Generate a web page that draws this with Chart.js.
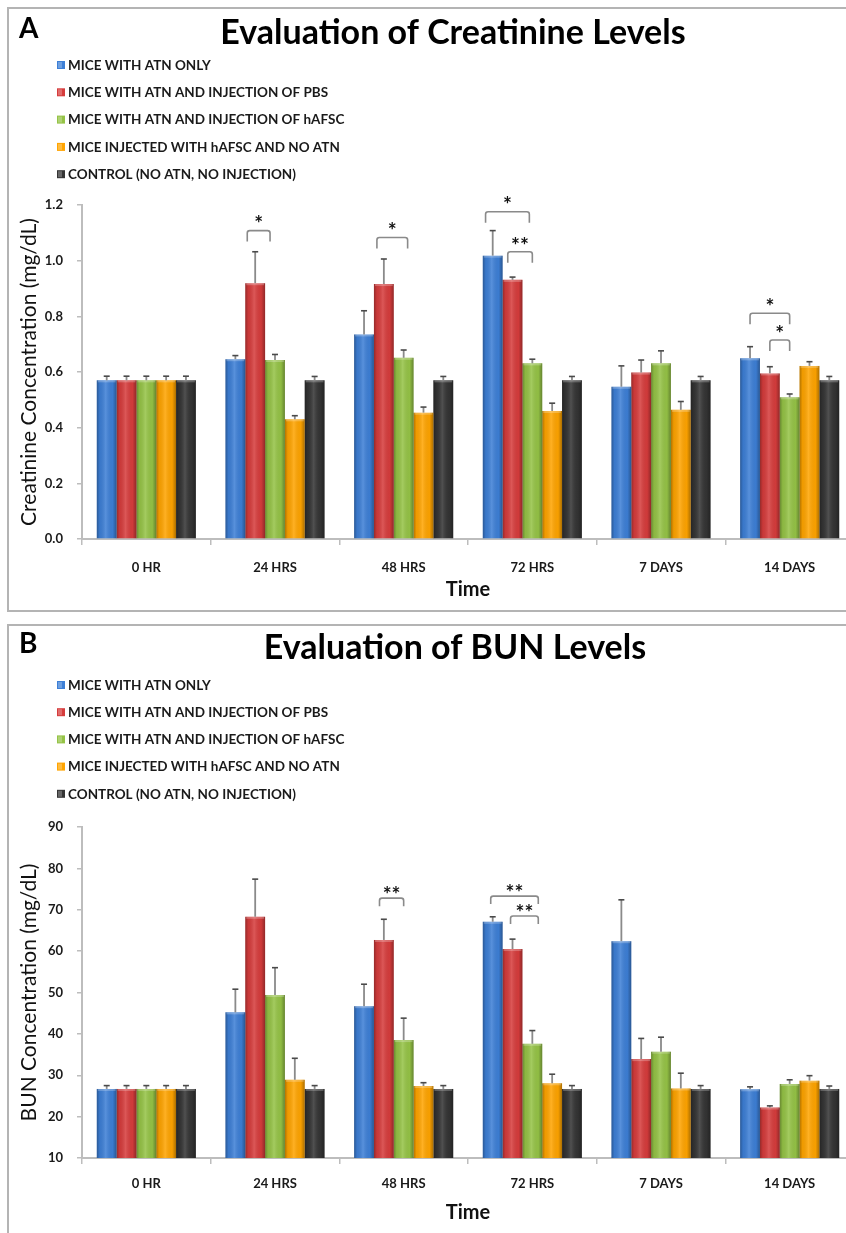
<!DOCTYPE html>
<html><head><meta charset="utf-8">
<script src="https://cdn.jsdelivr.net/npm/chart.js@4.4.1/dist/chart.umd.min.js"></script>
<style>
html,body{margin:0;padding:0;background:#fff;overflow:hidden;width:846px;height:1233px;}
.panel{position:absolute;left:7px;border:2px solid #b4b4b4;border-right:none;box-sizing:border-box;}
#pa{top:7px;width:900px;height:605px;}
#pb{top:624px;width:900px;height:640px;border-bottom:none;}
canvas{position:absolute;left:0;}
</style></head>
<body>
<div class="panel" id="pa"></div>
<div class="panel" id="pb"></div>
<canvas id="ca" width="860" height="616" style="top:0"></canvas>
<canvas id="cb" width="860" height="617" style="top:616px"></canvas>
<script>
const categories = ['0 HR','24 HRS','48 HRS','72 HRS','7 DAYS','14 DAYS'];
const seriesNames = ['MICE WITH ATN ONLY','MICE WITH ATN AND INJECTION OF PBS','MICE WITH ATN AND INJECTION OF hAFSC','MICE INJECTED WITH hAFSC AND NO ATN','CONTROL (NO ATN, NO INJECTION)'];
const seriesColors = ['#3d7fd6','#d63c3c','#95c346','#ffa400','#343434'];

// Panel A: creatinine (mg/dL)
const creatAtn   = [0.57, 0.646, 0.735, 1.018, 0.547, 0.649];
const creatPbs   = [0.57, 0.919, 0.916, 0.931, 0.598, 0.595];
const creatHafsc = [0.57, 0.643, 0.651, 0.631, 0.631, 0.509];
const creatNoAtn = [0.57, 0.430, 0.454, 0.460, 0.464, 0.622];
const creatCtrl  = [0.57, 0.57, 0.57, 0.57, 0.57, 0.57];
const creatAtnErr   = [0.015, 0.013, 0.085, 0.09, 0.075, 0.042];
const creatPbsErr   = [0.015, 0.113, 0.09, 0.01, 0.045, 0.024];
const creatHafscErr = [0.015, 0.02, 0.028, 0.015, 0.045, 0.012];
const creatNoAtnErr = [0.015, 0.013, 0.02, 0.028, 0.03, 0.015];
const creatCtrlErr  = [0.015, 0.014, 0.014, 0.014, 0.014, 0.014];
const creatBrackets = [
  {cat:1, from:0.6,  to:1.75, level:1.108, label:'*'},
  {cat:2, from:0.65, to:2.2,  level:1.083, label:'*'},
  {cat:3, from:-0.36,to:1.85, level:1.176, label:'*'},
  {cat:3, from:0.76, to:2.0,  level:1.032, label:'**'},
  {cat:5, from:0,    to:2,    level:0.811, label:'*'},
  {cat:5, from:1,    to:2,    level:0.715, label:'*'}
];

// Panel B: BUN (mg/dL)
const bunAtn   = [26.7, 45.2, 46.7, 67.1, 62.4, 26.6];
const bunPbs   = [26.7, 68.3, 62.7, 60.5, 33.9, 22.2];
const bunHafsc = [26.7, 49.4, 38.5, 37.6, 35.7, 27.9];
const bunNoAtn = [26.7, 28.9, 27.4, 28.05, 26.8, 28.7];
const bunCtrl  = [26.7, 26.7, 26.7, 26.7, 26.7, 26.7];
const bunAtnErr   = [0.8, 5.6, 5.3, 1.2, 10, 0.6];
const bunPbsErr   = [0.8, 9.1, 5.0, 2.4, 5.0, 0.4];
const bunHafscErr = [0.8, 6.6, 5.3, 3.2, 3.5, 1.0];
const bunNoAtnErr = [0.8, 5.2, 0.8, 2.2, 3.7, 1.2];
const bunCtrlErr  = [0.8, 0.8, 0.8, 0.8, 0.8, 0.7];
const bunBrackets = [
  {cat:2, from:0.78, to:2.0, level:72.8, label:'**'},
  {cat:3, from:-0.1, to:2.3, level:73.3, label:'**'},
  {cat:3, from:0.9,  to:2.3, level:68.5, label:'**'}
];

const decor = {
  id: 'decor',
  afterDatasetsDraw(chart, args, o) {
    const ctx = chart.ctx, ys = chart.scales.y, ca = chart.chartArea;
    ctx.save();
    ctx.beginPath(); ctx.rect(ca.left, 0, ca.right - ca.left, ca.bottom); ctx.clip();
    chart.data.datasets.forEach((ds, i) => {
      chart.getDatasetMeta(i).data.forEach(bar => {
        const p = bar.getProps(['x','y','base','width'], true);
        const l = p.x - p.width/2, h = p.base - p.y;
        const g = ctx.createLinearGradient(l, 0, l + p.width, 0);
        g.addColorStop(0, 'rgba(0,0,0,0.30)');
        g.addColorStop(0.15, 'rgba(0,0,0,0.06)');
        g.addColorStop(0.45, 'rgba(255,255,255,0.14)');
        g.addColorStop(0.8, 'rgba(0,0,0,0.03)');
        g.addColorStop(1, 'rgba(0,0,0,0.32)');
        ctx.fillStyle = g;
        ctx.fillRect(l, p.y, p.width, h);
        ctx.fillStyle = 'rgba(255,255,255,0.25)';
        ctx.fillRect(l + 1, p.y, p.width - 2, 2);
      });
    });
    chart.data.datasets.forEach((ds, i) => {
      const e = o.errors[i];
      chart.getDatasetMeta(i).data.forEach((bar, j) => {
        const p = bar.getProps(['x','y'], true);
        const ye = ys.getPixelForValue(ds.data[j] + e[j]);
        ctx.strokeStyle = '#8a8a8a'; ctx.lineWidth = 1.8;
        ctx.beginPath(); ctx.moveTo(p.x, p.y); ctx.lineTo(p.x, ye); ctx.stroke();
        ctx.strokeStyle = '#4a4a4a'; ctx.lineWidth = 1.6;
        ctx.beginPath(); ctx.moveTo(p.x - 3, ye); ctx.lineTo(p.x + 3, ye); ctx.stroke();
      });
    });
    o.brackets.forEach(b => {
      const x0 = chart.getDatasetMeta(0).data[b.cat].x;
      const step = chart.getDatasetMeta(1).data[b.cat].x - x0;
      const x1 = x0 + b.from * step, x2 = x0 + b.to * step;
      const yy = ys.getPixelForValue(b.level), leg = o.leg;
      ctx.strokeStyle = '#8a8a8a'; ctx.lineWidth = 1.6;
      ctx.beginPath();
      ctx.moveTo(x1, yy + leg); ctx.lineTo(x1, yy + 2.5);
      ctx.quadraticCurveTo(x1, yy, x1 + 2.5, yy);
      ctx.lineTo(x2 - 2.5, yy);
      ctx.quadraticCurveTo(x2, yy, x2, yy + 2.5);
      ctx.lineTo(x2, yy + leg);
      ctx.stroke();
      ctx.fillStyle = '#111';
      ctx.font = 'bold 21px Lato';
      ctx.textAlign = 'center'; ctx.textBaseline = 'middle';
      ctx.fillText(b.label, (x1 + x2) / 2, yy - o.labelOff);
    });
    ctx.restore();
  },
  afterDraw(chart, args, o) {
    const ctx = chart.ctx;
    ctx.save();
    ctx.fillStyle = '#000';
    ctx.textBaseline = 'middle';
    ctx.textAlign = 'left';
    ctx.font = 'bold 28px Lato';
    ctx.fillText(o.letter, 19, o.titleY - 4);
    ctx.textAlign = 'center';
    ctx.font = 'bold 34px Lato';
    ctx.fillText(o.title, o.titleX, o.titleY);
    ctx.textAlign = 'left';
    ctx.font = 'bold 13.5px Lato';
    chart.data.datasets.forEach((ds, i) => {
      const yy = o.legendY + i * o.legendStep;
      ctx.fillStyle = ds.backgroundColor;
      ctx.fillRect(57, yy - 4, 8, 8);
      ctx.fillStyle = 'rgba(255,255,255,0.25)';
      ctx.fillRect(58, yy - 3, 4, 6);
      ctx.fillStyle = '#1a1a1a';
      ctx.fillText(ds.label, 68, yy + 0.5);
    });
    ctx.restore();
  }
};

function makeChart(id, series, errors, brackets, cfg) {
  return new Chart(document.getElementById(id), {
    type: 'bar',
    data: {
      labels: categories,
      datasets: series.map((d, i) => ({
        label: seriesNames[i], data: d, backgroundColor: seriesColors[i],
        borderWidth: 0, barPercentage: 1, categoryPercentage: 0.77
      }))
    },
    options: {
      responsive: false, animation: false, events: [],
      layout: { padding: { top: cfg.top, left: 0, right: 6, bottom: 0 } },
      plugins: {
        legend: { display: false }, tooltip: { enabled: false },
        decor: { errors: errors, brackets: brackets, leg: cfg.leg, labelOff: cfg.labelOff,
                 letter: cfg.letter, title: cfg.title, titleX: cfg.titleX, titleY: cfg.titleY,
                 legendY: cfg.legendY, legendStep: cfg.legendStep }
      },
      scales: {
        x: {
          afterFit: s => { s.height = cfg.xh; },
          grid: { display: true, drawOnChartArea: false, drawTicks: true, tickLength: 6, color: '#bdbdbd', lineWidth: 1.5 },
          border: { display: true, color: '#bdbdbd', width: 2 },
          ticks: { color: '#1a1a1a', font: { family: 'Lato', weight: 'bold', size: 13 }, padding: cfg.xpad, maxRotation: 0 },
          title: { display: true, text: 'Time', color: '#111', font: { family: 'Lato', weight: 'bold', size: 20 },
                   padding: { top: 0, bottom: cfg.tpad } }
        },
        y: {
          min: cfg.min, max: cfg.max, beginAtZero: false,
          afterFit: s => { s.width = 82; },
          grid: { display: true, drawOnChartArea: false, drawTicks: true, tickLength: 5, color: '#bdbdbd', lineWidth: 1.5 },
          border: { display: true, color: '#bdbdbd', width: 2 },
          ticks: { stepSize: cfg.step, color: '#1a1a1a', font: { family: 'Lato', weight: 'bold', size: 13 }, padding: 14,
                   callback: v => cfg.fmt(v) },
          title: { display: true, text: cfg.ytitle, color: '#111', font: { family: 'Lato', size: 21 },
                   padding: { top: 17, bottom: 0 } }
        }
      }
    },
    plugins: [decor]
  });
}

makeChart('ca', [creatAtn, creatPbs, creatHafsc, creatNoAtn, creatCtrl],
  [creatAtnErr, creatPbsErr, creatHafscErr, creatNoAtnErr, creatCtrlErr], creatBrackets,
  { top: 205, xh: 77, xpad: 15, tpad: 14, min: 0, max: 1.2, step: 0.2, fmt: v => v.toFixed(1),
    ytitle: 'Creatinine Concentration (mg/dL)', leg: 11, labelOff: 6,
    letter: 'A', title: 'Evaluation of Creatinine Levels', titleX: 453, titleY: 33, legendY: 65, legendStep: 27.3 });

makeChart('cb', [bunAtn, bunPbs, bunHafsc, bunNoAtn, bunCtrl],
  [bunAtnErr, bunPbsErr, bunHafscErr, bunNoAtnErr, bunCtrlErr], bunBrackets,
  { top: 211, xh: 75, xpad: 12, tpad: 8, min: 10, max: 90, step: 10, fmt: v => String(v),
    ytitle: 'BUN Concentration (mg/dL)', leg: 8, labelOff: 3,
    letter: 'B', title: 'Evaluation of BUN Levels', titleX: 455, titleY: 32, legendY: 69, legendStep: 27.2 });
</script>
</body></html>
